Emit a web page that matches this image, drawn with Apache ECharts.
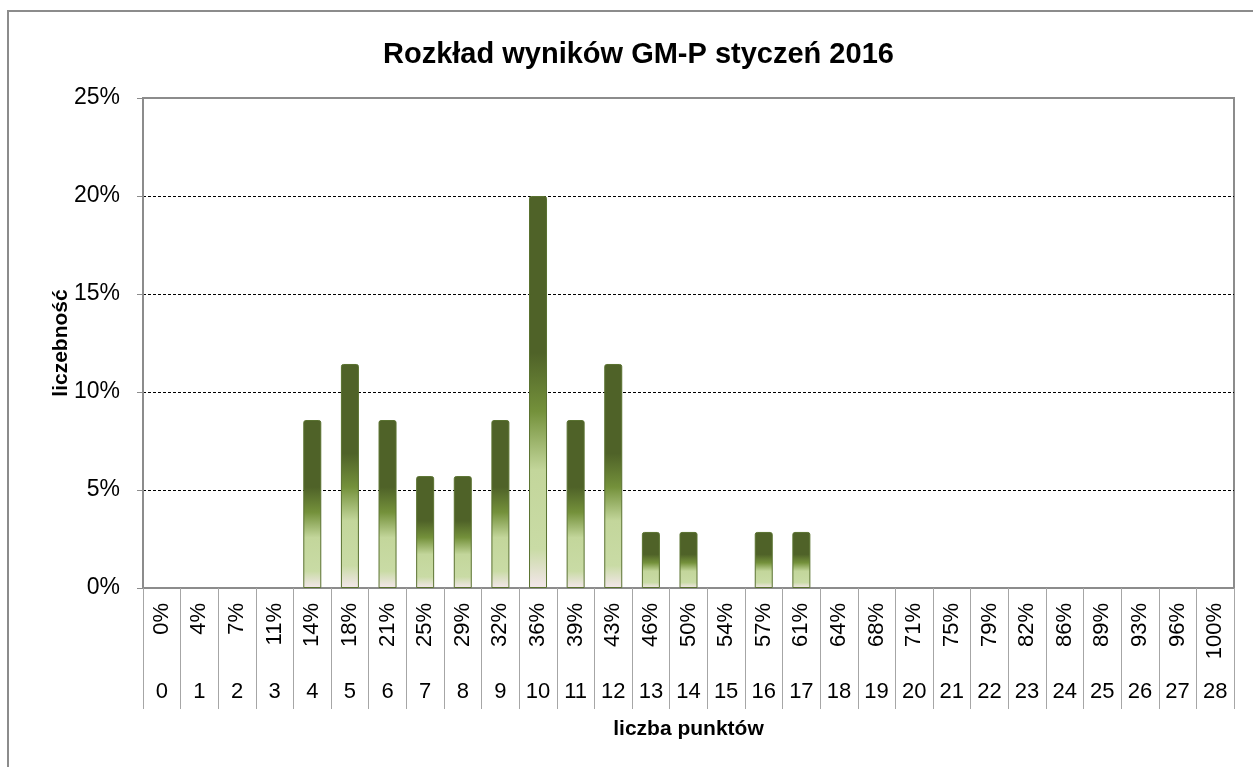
<!DOCTYPE html>
<html>
<head>
<meta charset="utf-8">
<script src="https://cdn.jsdelivr.net/npm/echarts@6/dist/echarts.min.js"></script>
<style>
  html, body { margin: 0; padding: 0; background: #fff; }
  #chart { width: 1253px; height: 767px; }
</style>
</head>
<body>
<div id="chart"></div>
<script>
// liczba punktów 0..28
const points = ['0','1','2','3','4','5','6','7','8','9','10','11','12','13','14','15','16','17','18','19','20','21','22','23','24','25','26','27','28'];
// procent maksymalnej liczby punktów
const pointPercents = ['0%','4%','7%','11%','14%','18%','21%','25%','29%','32%','36%','39%','43%','46%','50%','54%','57%','61%','64%','68%','71%','75%','79%','82%','86%','89%','93%','96%','100%'];
// liczebność w %
const frequency = [0, 0, 0, 0, 8.57, 11.43, 8.57, 5.71, 5.71, 8.57, 20.0, 8.57, 11.43, 2.86, 2.86, 0, 2.86, 2.86, 0, 0, 0, 0, 0, 0, 0, 0, 0, 0, 0];
const yTicks = [0, 5, 10, 15, 20, 25];

const font = '"Liberation Sans", Arial, sans-serif';
const grey = '#8c8c8c';

const chart = echarts.init(document.getElementById('chart'));

const barFill = new echarts.graphic.LinearGradient(0, 0, 0, 1, [
    { offset: 0, color: '#4f6228' },
    { offset: 0.4, color: '#4f6228' },
    { offset: 0.55, color: '#74913b' },
    { offset: 0.7, color: '#c3d69b' },
    { offset: 0.9, color: '#c9dba5' },
    { offset: 1, color: '#f4e6ec' }
]);

// puste słupki bez obrysu
const barData = frequency.map(v => v === 0 ? { value: v, itemStyle: { borderWidth: 0 } } : v);

const option = {
    animation: false,
    textStyle: { fontFamily: font },
    title: {
        text: 'Rozkład wyników GM-P styczeń 2016',
        left: 378,
        top: 35,
        textStyle: { fontSize: 29, fontWeight: 'bold', color: '#000', fontFamily: font }
    },
    graphic: [{
        type: 'rect',
        shape: { x: 8, y: 11, width: 1300, height: 800 },
        style: { fill: 'none', stroke: grey, lineWidth: 2 },
        silent: true
    }],
    grid: {
        left: 143, right: 19, top: 98, bottom: 179,
        show: true, borderColor: grey, borderWidth: 2
    },
    xAxis: [{
        type: 'category',
        data: pointPercents,
        axisLine: { lineStyle: { color: grey, width: 2 } },
        axisTick: { show: true, interval: 0, length: 121, lineStyle: { color: '#a6a6a6', width: 1 } },
        axisLabel: { interval: 0, rotate: 90, margin: 15, fontSize: 22, color: '#000', fontFamily: font }
    }, {
        type: 'category',
        position: 'bottom',
        data: points,
        name: 'liczba punktów',
        nameLocation: 'middle',
        nameGap: 131,
        nameMoveOverlap: false,
        nameTextStyle: { fontSize: 21, fontWeight: 'bold', color: '#000', fontFamily: font },
        axisLine: { show: false },
        axisTick: { show: false },
        axisLabel: { interval: 0, margin: 93, fontSize: 22, color: '#000', fontFamily: font }
    }],
    yAxis: {
        type: 'value',
        min: 0, max: 25, interval: 5,
        name: 'liczebność',
        nameLocation: 'middle',
        nameGap: 71,
        nameMoveOverlap: false,
        nameTextStyle: { fontSize: 21, fontWeight: 'bold', color: '#000', fontFamily: font },
        axisLine: { show: true, lineStyle: { color: grey, width: 2 } },
        axisTick: { show: true, length: 6, lineStyle: { color: grey } },
        axisLabel: {
            margin: 23, fontSize: 23, color: '#000', fontFamily: font,
            formatter: v => yTicks.includes(v) ? v + '%' : ''
        },
        splitLine: {
            show: true, showMinLine: false, showMaxLine: false,
            lineStyle: { color: '#000', type: [3, 2], width: 1 }
        }
    },
    series: [{
        type: 'bar',
        xAxisIndex: 0,
        data: barData,
        barWidth: 18,
        itemStyle: {
            color: barFill,
            borderColor: '#5a7230',
            borderWidth: 1,
            borderRadius: [2, 2, 0, 0]
        }
    }]
};

chart.setOption(option);
</script>
</body>
</html>
